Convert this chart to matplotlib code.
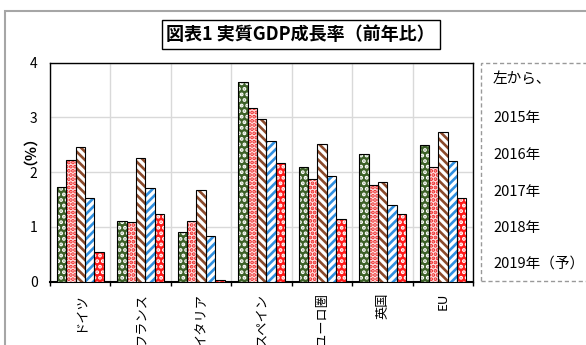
import numpy as np
import matplotlib
matplotlib.use("Agg")
import matplotlib.pyplot as plt
from matplotlib.patches import Rectangle

plt.rcParams['font.family'] = ['Noto Sans CJK JP', 'DejaVu Sans']
plt.rcParams['hatch.linewidth'] = 1.9

categories = ['ドイツ', 'フランス', 'イタリア', 'スペイン', 'ユーロ圏', '英国', 'EU']
years = ['2015年', '2016年', '2017年', '2018年', '2019年（予）']
v2015 = [1.73, 1.10, 0.90, 3.65, 2.09, 2.34, 2.49]
v2016 = [2.22, 1.08, 1.10, 3.17, 1.88, 1.77, 2.09]
v2017 = [2.45, 2.25, 1.67, 2.97, 2.52, 1.82, 2.74]
v2018 = [1.52, 1.71, 0.84, 2.56, 1.93, 1.39, 2.20]
v2019 = [0.54, 1.23, 0.02, 2.17, 1.14, 1.23, 1.52]
series = [v2015, v2016, v2017, v2018, v2019]

faces = ['#3d6128', '#ffe4e4', 'white', 'white', '#ff1a1a']
hatchcol = ['white', '#ee2222', '#8b4a2b', '#2f8fe0', 'white']
hatches = ['...', '....', '\\\\\\\\', '////', '...']

W, H = 586, 345
fig = plt.figure(figsize=(W / 100, H / 100), dpi=100)
ax = fig.add_axes([50 / W, 1 - 281.5 / H, (473.3 - 50) / W, (281.5 - 62.7) / H])

x = np.arange(len(categories))
w = 0.155
for i, vals in enumerate(series):
    pos = x + (i - 2) * w
    ax.bar(pos, vals, w, color=faces[i], edgecolor=hatchcol[i], hatch=hatches[i],
           linewidth=0, zorder=3)
    ax.bar(pos, vals, w, fill=False, edgecolor='black', linewidth=0.8, zorder=4)

ax.set_xlim(-0.5, len(categories) - 0.5)
ax.set_ylim(0, 4)
ax.set_yticks([0, 1, 2, 3, 4])
ax.set_yticklabels(['0', '1', '2', '3', '4'], fontsize=10)
ax.tick_params(axis='y', length=0, pad=9)
ax.set_xticks(x)
ax.set_xticklabels(categories, rotation=90, fontsize=9.5, va='top', ha='center')
ax.tick_params(axis='x', which='major', length=0, pad=8)
ax.set_xticks(np.arange(-0.5, len(categories)), minor=True)
ax.tick_params(axis='x', which='minor', length=3, width=1, direction='out')
ax.grid(axis='y', color='#d9d9d9', linewidth=1, zorder=0)
ax.grid(axis='x', which='minor', color='#d9d9d9', linewidth=1, zorder=0)
for s in ax.spines.values():
    s.set_color('black')
    s.set_linewidth(1)
ax.spines['bottom'].set_linewidth(1.5)

# y label
fig.text(22 / W, 1 - 143 / H, '（％）', rotation=90, fontsize=10.5, fontweight='bold',
         ha='center', va='center')

# title
fig.text(300.8 / W, 1 - 34.5 / H, '図表1 実質GDP成長率（前年比）', fontsize=13,
         fontweight='bold', ha='center', va='center',
         bbox=dict(boxstyle='square,pad=0.25', facecolor='white', edgecolor='black', linewidth=1))

# outer border
fig.patches.append(Rectangle((5 / W, -0.1), 1.0, (H - 11) / H + 0.1, transform=fig.transFigure,
                             fill=False, edgecolor='#a6a6a6', linewidth=1.5))
# legend dashed box
fig.patches.append(Rectangle((480.7 / W, 1 - 281 / H), 0.5, (281 - 63.3) / H,
                             transform=fig.transFigure, fill=False, edgecolor='#999999',
                             linewidth=1, linestyle=(0, (3, 2))))

legend_lines = ['左から、'] + years
ys = [80, 118, 155, 192, 228, 264]
for t, yy in zip(legend_lines, ys):
    fig.text(493 / W, 1 - yy / H, t, fontsize=10.5, ha='left', va='center')

fig.savefig('out.png', dpi=100)
